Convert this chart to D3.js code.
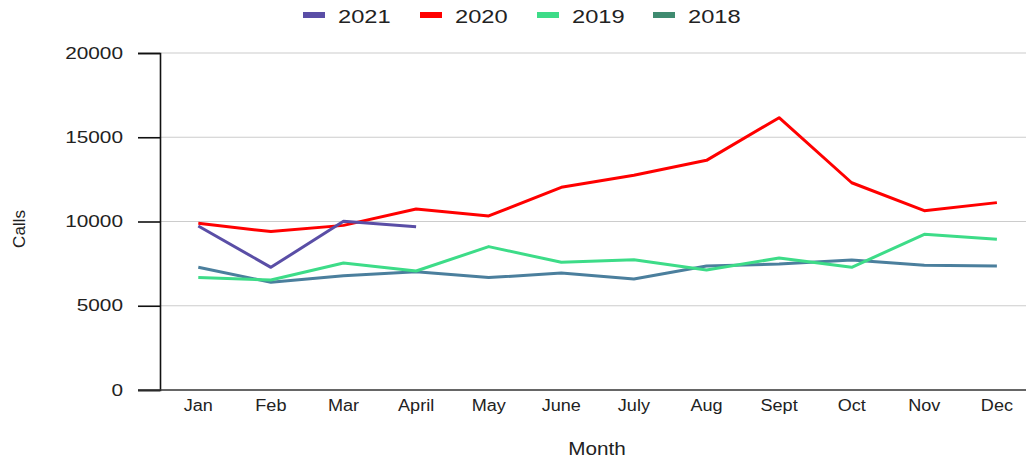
<!DOCTYPE html>
<html>
<head>
<meta charset="utf-8">
<script src="https://cdn.jsdelivr.net/npm/d3@7"></script>
<style>
  body { margin: 0; background: #fff; }
  text { font-family: "Liberation Sans", Arial, sans-serif; fill: #222; }
</style>
</head>
<body>
<div id="chart"></div>
<script>
// month categories
const months = ["Jan", "Feb", "Mar", "April", "May", "June", "July", "Aug", "Sept", "Oct", "Nov", "Dec"];

// calls per month
const calls2021 = [9730, 7280, 10010, 9690];
const calls2020 = [9890, 9400, 9770, 10740, 10330, 12030, 12740, 13630, 16160, 12300, 10640, 11120];
const calls2019 = [6670, 6530, 7540, 7060, 8510, 7580, 7730, 7120, 7830, 7280, 9240, 8940];
const calls2018 = [7280, 6390, 6780, 7020, 6670, 6940, 6590, 7360, 7480, 7720, 7400, 7360];

const yTicks = [0, 5000, 10000, 15000, 20000];

const series = [
    { name: "2021", values: calls2021, color: "#5a4ea6", legend: "#5a4ea6" },
    { name: "2020", values: calls2020, color: "#ff0000", legend: "#ff0000" },
    { name: "2019", values: calls2019, color: "#3ddc88", legend: "#3ddc88" },
    { name: "2018", values: calls2018, color: "#4b7f9d", legend: "#3f8b70" }
];

var margin = { top: 53, right: 0, bottom: 70, left: 160 },
    width = 1026 - margin.left - margin.right,
    height = 460 - margin.top - margin.bottom;

var svg = d3.select("#chart")
    .append("svg")
    .attr("width", 1026)
    .attr("height", 460);

var g = svg.append("g")
    .attr("transform", "translate(" + margin.left + "," + margin.top + ")");

var x = d3.scaleBand()
    .domain(months)
    .range([2, 2 + 12 * 72.6]);

var y = d3.scaleLinear()
    .domain([0, 20000])
    .range([height, 0]);

// gridlines
g.selectAll(".grid")
    .data(yTicks.filter(d => d > 0))
    .enter()
    .append("line")
    .attr("x1", 0)
    .attr("x2", width)
    .attr("y1", d => y(d))
    .attr("y2", d => y(d))
    .attr("stroke", "#cccccc")
    .attr("stroke-width", 1.2);

// y axis (text in the picture is a bit wide, so stretch it)
var yAxis = g.append("g")
    .call(d3.axisLeft(y).tickValues(yTicks).tickSize(22).tickFormat(d3.format("d")));
yAxis.select(".domain").attr("stroke", "#111").attr("stroke-width", 1.6);
yAxis.selectAll(".tick line").attr("stroke", "#111").attr("stroke-width", 1.6);
yAxis.selectAll("text")
    .attr("x", 0)
    .attr("transform", "translate(-37,0) scale(1.3,1)")
    .style("font-size", "16px")
    .attr("fill", "#222");

// x axis
var xAxis = g.append("g")
    .attr("transform", "translate(0," + height + ")")
    .call(d3.axisBottom(x).tickSize(0).tickPadding(0));
xAxis.select(".domain").remove();
xAxis.selectAll("text")
    .attr("y", 0)
    .attr("dy", "0")
    .attr("transform", "translate(0,21) scale(1.13,1)")
    .style("font-size", "16px")
    .attr("fill", "#222");
g.append("line")
    .attr("x1", -22)
    .attr("x2", width)
    .attr("y1", height)
    .attr("y2", height)
    .attr("stroke", "#333")
    .attr("stroke-width", 1.6);

var line = d3.line()
    .x((d, i) => x(months[i]) + x.bandwidth() / 2)
    .y(d => y(d));

// draw oldest first so 2021 sits on top
series.slice().reverse().forEach(s => {
    g.append("path")
        .datum(s.values)
        .attr("d", line)
        .attr("fill", "none")
        .attr("stroke", s.color)
        .attr("stroke-width", 3)
        .attr("stroke-linejoin", "round");
});

// axis titles
svg.append("text")
    .attr("transform", "translate(25,229)rotate(-90)")
    .style("text-anchor", "middle")
    .style("font-size", "17px")
    .text("Calls");

svg.append("text")
    .attr("transform", "translate(597,455)scale(1.12,1)")
    .style("text-anchor", "middle")
    .style("font-size", "18.5px")
    .text("Month");

// legend
var legendX = [303, 420, 537, 653];
var legend = svg.selectAll(".legend")
    .data(series)
    .enter()
    .append("g")
    .attr("transform", (d, i) => "translate(" + legendX[i] + ",15)");

legend.append("rect")
    .attr("x", 0)
    .attr("y", -3)
    .attr("width", 22)
    .attr("height", 6)
    .attr("fill", d => d.legend);

legend.append("text")
    .attr("transform", "translate(35,7.5) scale(1.28,1)")
    .style("font-size", "18.5px")
    .text(d => d.name);
</script>
</body>
</html>
